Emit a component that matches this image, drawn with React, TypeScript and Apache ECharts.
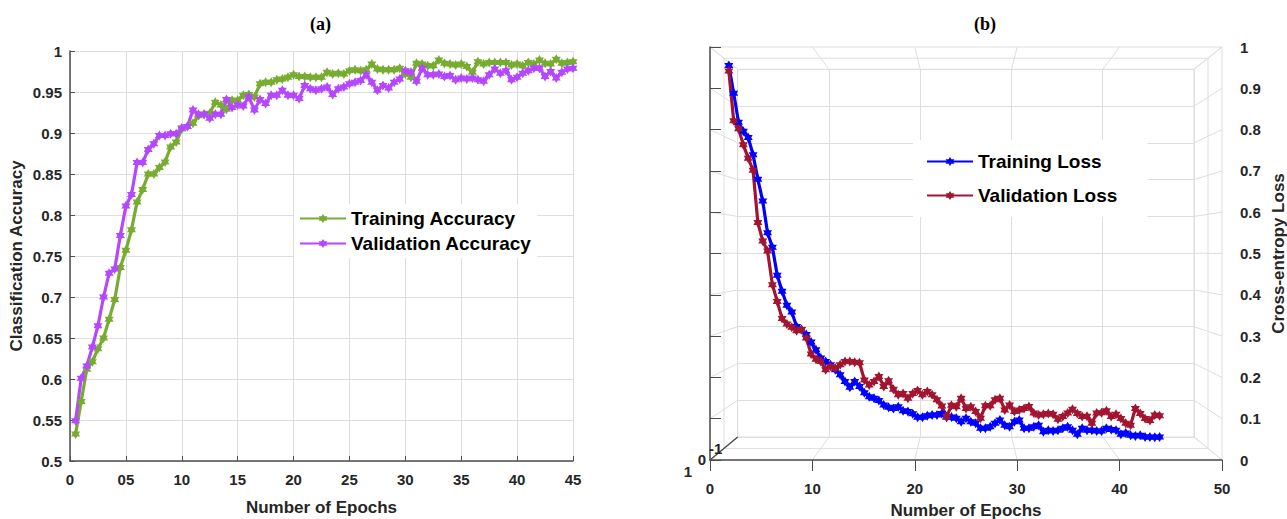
import React, { useEffect, useRef } from "react";
import * as echarts from "echarts";

const epochs = [
  0.5, 1, 1.5, 2, 2.5, 3, 3.5, 4, 4.5, 5, 5.5, 6, 6.5, 7, 7.5, 8, 8.5, 9, 9.5, 10,
  10.5, 11, 11.5, 12, 12.5, 13, 13.5, 14, 14.5, 15, 15.5, 16, 16.5, 17, 17.5, 18, 18.5, 19, 19.5, 20,
  20.5, 21, 21.5, 22, 22.5, 23, 23.5, 24, 24.5, 25, 25.5, 26, 26.5, 27, 27.5, 28, 28.5, 29, 29.5, 30,
  30.5, 31, 31.5, 32, 32.5, 33, 33.5, 34, 34.5, 35, 35.5, 36, 36.5, 37, 37.5, 38, 38.5, 39, 39.5, 40,
  40.5, 41, 41.5, 42, 42.5, 43, 43.5, 44, 44.5, 45,
];

const trainAcc = [
  0.533, 0.5725, 0.612, 0.621, 0.637, 0.65, 0.673, 0.697, 0.736, 0.757,
  0.782, 0.816, 0.831, 0.85, 0.85, 0.858, 0.8645, 0.883, 0.889, 0.905,
  0.908, 0.912, 0.921, 0.923, 0.924, 0.9375, 0.934, 0.929, 0.94, 0.94,
  0.946, 0.947, 0.944, 0.96, 0.962, 0.962, 0.965, 0.966, 0.968, 0.971,
  0.969, 0.969, 0.968, 0.968, 0.968, 0.974, 0.972, 0.973, 0.972, 0.976,
  0.977, 0.976, 0.977, 0.984, 0.978, 0.977, 0.977, 0.977, 0.979, 0.972,
  0.968, 0.985, 0.984, 0.982, 0.982, 0.989, 0.985, 0.984, 0.983, 0.984,
  0.981, 0.974, 0.987, 0.984, 0.986, 0.986, 0.986, 0.986, 0.983, 0.984,
  0.982, 0.986, 0.984, 0.989, 0.985, 0.984, 0.99, 0.985, 0.986, 0.987,
];

const valAcc = [
  0.549, 0.601, 0.616, 0.639, 0.665, 0.7, 0.729, 0.734, 0.775, 0.811,
  0.825, 0.864, 0.864, 0.88, 0.887, 0.897, 0.897, 0.899, 0.899, 0.906,
  0.908, 0.928, 0.923, 0.923, 0.918, 0.923, 0.923, 0.941, 0.931, 0.934,
  0.933, 0.944, 0.928, 0.941, 0.936, 0.946, 0.946, 0.952, 0.946, 0.946,
  0.942, 0.958, 0.954, 0.952, 0.954, 0.956, 0.947, 0.954, 0.956, 0.96,
  0.962, 0.964, 0.971, 0.962, 0.952, 0.958, 0.955, 0.962, 0.966, 0.976,
  0.974, 0.963, 0.979, 0.971, 0.971, 0.972, 0.969, 0.97, 0.965, 0.967,
  0.966, 0.967, 0.965, 0.963, 0.971, 0.978, 0.973, 0.976, 0.965, 0.968,
  0.973, 0.976, 0.979, 0.979, 0.969, 0.975, 0.967, 0.974, 0.978, 0.979,
];

const trainLoss = [
  0.981, 0.91, 0.836, 0.813, 0.797, 0.753, 0.69, 0.634, 0.553, 0.516,
  0.444, 0.403, 0.367, 0.35, 0.313, 0.305, 0.292, 0.273, 0.253, 0.232,
  0.223, 0.215, 0.202, 0.189, 0.172, 0.157, 0.172, 0.159, 0.143, 0.133,
  0.129, 0.123, 0.112, 0.106, 0.103, 0.107, 0.097, 0.095, 0.089, 0.08,
  0.08, 0.084, 0.086, 0.086, 0.09, 0.08, 0.081, 0.078, 0.069, 0.078,
  0.069, 0.065, 0.052, 0.052, 0.056, 0.065, 0.073, 0.06, 0.056, 0.069,
  0.073, 0.052, 0.052, 0.056, 0.06, 0.043, 0.047, 0.045, 0.047, 0.052,
  0.056, 0.047, 0.037, 0.052, 0.047, 0.047, 0.045, 0.045, 0.052, 0.049,
  0.047, 0.037, 0.04, 0.034, 0.032, 0.034, 0.03, 0.03, 0.029, 0.03,
];

const valLoss = [
  0.967, 0.84, 0.819, 0.778, 0.744, 0.713, 0.579, 0.532, 0.506, 0.42,
  0.377, 0.333, 0.319, 0.311, 0.302, 0.305, 0.283, 0.242, 0.229, 0.223,
  0.202, 0.21, 0.206, 0.215, 0.223, 0.223, 0.221, 0.22, 0.176, 0.163,
  0.172, 0.185, 0.159, 0.174, 0.152, 0.138, 0.141, 0.129, 0.141, 0.149,
  0.138, 0.146, 0.138, 0.125, 0.109, 0.082, 0.111, 0.107, 0.129, 0.103,
  0.107, 0.095, 0.078, 0.11, 0.11, 0.125, 0.129, 0.099, 0.112, 0.095,
  0.099, 0.103, 0.108, 0.091, 0.086, 0.088, 0.09, 0.088, 0.075, 0.082,
  0.091, 0.101, 0.09, 0.082, 0.083, 0.065, 0.091, 0.092, 0.097, 0.082,
  0.088, 0.077, 0.065, 0.06, 0.103, 0.09, 0.077, 0.072, 0.086, 0.084,
];

const accXTickLabels = ["0", "05", "10", "15", "20", "25", "30", "35", "40", "45"];
const lossXTicks = [0, 10, 20, 30, 40, 50];
const lossYTicks = [0, 0.1, 0.2, 0.3, 0.4, 0.5, 0.6, 0.7, 0.8, 0.9, 1];
const depthTickLabels = ["1", "0", "-1"];

const STAR =
  "path://M0,-10L2.887,-5L8.66,-5L5.774,0L8.66,5L2.887,5L0,10L-2.887,5L-8.66,5L-5.774,0L-8.66,-5L-2.887,-5Z";

const TXT = "#262626";
const AX = "#4d4d4d";
const GRIDC = "#dedede";
const FONT = "'Liberation Sans', Arial, Helvetica, sans-serif";
const SERIF = "'Liberation Serif', 'Times New Roman', serif";
const GREEN = "#77AC30";
const PURPLE = "#B447FF";
const BLUE = "#0000FF";
const RED = "#A2142F";

const pair = (ys: number[]) => epochs.map((x, i) => [x, ys[i]]);

const tickFont = { color: TXT, fontSize: 15, fontWeight: "bold" as const, fontFamily: FONT };
const nameFont = { color: TXT, fontSize: 17, fontWeight: "bold" as const, fontFamily: FONT };

function lineSeries(name: string, data: number[], color: string, idx: number) {
  return {
    name,
    type: "line",
    xAxisIndex: idx,
    yAxisIndex: idx,
    data: pair(data),
    symbol: STAR,
    symbolSize: [9, 10],
    showAllSymbol: true,
    lineStyle: { width: 3.2, color },
    itemStyle: { color },
    emphasis: { disabled: true },
    silent: true,
    z: 3,
  };
}

export default function App() {
  const ref = useRef<HTMLDivElement>(null);
  useEffect(() => {
    if (!ref.current) return;
    const chart = echarts.init(ref.current, null, { renderer: "svg" });
    const option: any = {
      animation: false,
      textStyle: { fontFamily: FONT },
      title: [
        { text: "(a)", left: 305, top: 10, textStyle: { fontFamily: SERIF, fontWeight: "bold", fontSize: 18, color: "#000" } },
        { text: "(b)", left: 969, top: 10, textStyle: { fontFamily: SERIF, fontWeight: "bold", fontSize: 18, color: "#000" } },
      ],
      grid: [
        { left: 70, top: 51, width: 503, height: 410, outerBoundsMode: "none" },
        { left: 710, top: 47, width: 512, height: 413, show: true, borderColor: GRIDC, borderWidth: 1, outerBoundsMode: "none" },
        { left: 724, top: 58.2, width: 484, height: 390.4, show: true, borderColor: GRIDC, borderWidth: 1, outerBoundsMode: "none" },
        { left: 737.7, top: 69.3, width: 456.3, height: 367.7, show: true, borderColor: GRIDC, borderWidth: 1, outerBoundsMode: "none" },
      ],
      xAxis: [
        {
          gridIndex: 0, type: "value", min: 0, max: 45, interval: 5,
          axisLine: { show: true, lineStyle: { color: AX, width: 1.5 } },
          axisTick: { show: true, inside: true, length: 5, lineStyle: { color: AX } },
          axisLabel: { ...tickFont, margin: 11, formatter: (v: number) => accXTickLabels[Math.round(v / 5)] },
          splitLine: { show: true, lineStyle: { color: GRIDC, width: 1 } },
          name: "Number of Epochs", nameLocation: "middle", nameGap: 38, nameTextStyle: nameFont,
        },
        {
          gridIndex: 1, type: "value", min: 0, max: 50, interval: 10,
          axisLine: { show: true, lineStyle: { color: AX, width: 1.5 } },
          axisTick: { show: true, inside: false, length: 11, lineStyle: { color: AX } },
          axisLabel: { ...tickFont, margin: 21 },
          splitLine: { show: false },
          name: "Number of Epochs", nameLocation: "middle", nameGap: 42, nameTextStyle: nameFont,
        },
        { gridIndex: 2, type: "value", min: 0, max: 50, show: false },
        {
          gridIndex: 3, type: "value", min: 0, max: 50, interval: 10,
          axisLine: { show: false }, axisTick: { show: false }, axisLabel: { show: false },
          splitLine: { show: true, lineStyle: { color: GRIDC, width: 1 } },
        },
      ],
      yAxis: [
        {
          gridIndex: 0, type: "value", min: 0.5, max: 1, interval: 0.05,
          axisLine: { show: true, lineStyle: { color: AX, width: 1.5 } },
          axisTick: { show: true, inside: true, length: 5, lineStyle: { color: AX } },
          axisLabel: { ...tickFont, margin: 8 },
          splitLine: { show: true, lineStyle: { color: GRIDC, width: 1 } },
          name: "Classification Accuracy", nameLocation: "middle", nameGap: 45, nameTextStyle: nameFont,
        },
        {
          gridIndex: 1, type: "value", position: "right", min: 0, max: 1, interval: 0.1,
          axisLine: { show: true, lineStyle: { color: AX, width: 1.5 } },
          axisTick: { show: true, inside: false, length: 11, lineStyle: { color: AX } },
          axisLabel: { ...tickFont, margin: 18 },
          splitLine: { show: false },
          name: "Cross-entropy Loss", nameLocation: "middle", nameGap: 48, nameRotate: 90, nameTextStyle: nameFont,
        },
        { gridIndex: 2, type: "value", min: 0, max: 1, show: false },
        {
          gridIndex: 3, type: "value", min: 0, max: 1, interval: 0.1,
          axisLine: { show: false }, axisTick: { show: false }, axisLabel: { show: false },
          splitLine: { show: true, lineStyle: { color: GRIDC, width: 1 } },
        },
      ],
      legend: [
        {
          data: ["Training Accuracy", "Validation Accuracy"], orient: "vertical",
          left: 294, top: 204, padding: [5, 6, 5, 5], itemWidth: 46, itemHeight: 11, itemGap: 6,
          backgroundColor: "#fff", selectedMode: false, z: 10,
          textStyle: { fontSize: 19, fontWeight: "bold", color: "#000", fontFamily: FONT },
        },
        {
          data: ["Training Loss", "Validation Loss"], orient: "vertical",
          left: 913, top: 140, padding: [12, 30, 12, 13], itemWidth: 46, itemHeight: 11, itemGap: 15,
          backgroundColor: "#fff", selectedMode: false, z: 10,
          textStyle: { fontSize: 19, fontWeight: "bold", color: "#000", fontFamily: FONT },
        },
      ],
      series: [
        lineSeries("Training Accuracy", trainAcc, GREEN, 0),
        lineSeries("Validation Accuracy", valAcc, PURPLE, 0),
        lineSeries("Training Loss", trainLoss, BLUE, 2),
        lineSeries("Validation Loss", valLoss, RED, 2),
      ],
    };
    chart.setOption(option);

    const px = (g: number, x: number, y: number) => chart.convertToPixel({ gridIndex: g }, [x, y]) as number[];
    const seg = (a: number[], b: number[], color: string, w: number) => ({
      type: "line", silent: true, z: 0,
      shape: { x1: a[0], y1: a[1], x2: b[0], y2: b[1] },
      style: { stroke: color, lineWidth: w },
    });
    const deco: any[] = [];
    lossYTicks.forEach((v) => {
      deco.push(seg(px(1, 0, v), px(3, 0, v), GRIDC, 1));
      deco.push(seg(px(1, 50, v), px(3, 50, v), GRIDC, 1));
    });
    lossXTicks.forEach((x) => {
      deco.push(seg(px(1, x, 1), px(3, x, 1), GRIDC, 1));
      deco.push(seg(px(1, x, 0), px(3, x, 0), GRIDC, 1));
    });
    const corners = [px(1, 0, 0), px(2, 0, 0), px(3, 0, 0)];
    deco.push({ ...seg(corners[0], corners[2], AX, 1.5), z: 5 });
    corners.forEach((c, i) => {
      deco.push({
        type: "text", silent: true, z: 5,
        x: c[0] - 22, y: c[1] + 11,
        style: {
          text: depthTickLabels[i], fill: TXT, font: `bold 15px ${FONT}`,
          align: "center", verticalAlign: "middle",
        },
      });
    });
    chart.setOption({ graphic: deco });

    return () => chart.dispose();
  }, []);
  return (
    <div
      ref={ref}
      style={{ position: "fixed", left: 0, top: 0, width: 1287, height: 519, background: "#fff" }}
    />
  );
}
